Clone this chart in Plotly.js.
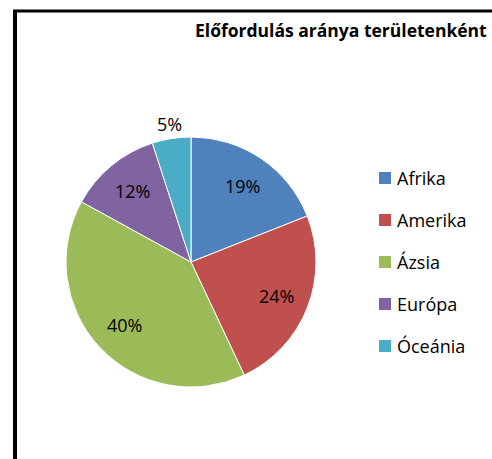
<!DOCTYPE html>
<html><head><meta charset="utf-8">
<script src="https://cdn.plot.ly/plotly-3.0.1.min.js"></script>
<style>html,body{margin:0;padding:0;background:#fff}#chart{width:492px;height:459px}</style>
</head><body><div id="chart"></div>
<script>
const categories = ["Afrika", "Amerika", "Ázsia", "Európa", "Óceánia"];
const shares = [19, 24, 40, 12, 5];
const colors = ["#4F81BD", "#C0504D", "#9BBB59", "#8064A2", "#4BACC6"];
const labelOutside = [false, false, false, false, true];
const chartTitle = "Előfordulás aránya területenként";

const W = 492, H = 459;
const px = v => v / W, py = v => 1 - v / H;
const FONT = "'Open Sans', sans-serif";

// pie geometry (pixels)
const CX = 191, CY = 262, R = 125;

const shapes = [
  {type: "line", xref: "paper", yref: "paper", x0: px(15), x1: px(15), y0: py(10), y1: py(459), line: {color: "#000", width: 4}},
  {type: "line", xref: "paper", yref: "paper", x0: px(13), x1: px(492), y0: py(11), y1: py(11), line: {color: "#000", width: 3}}
];
const annotations = [
  {text: "<b>" + chartTitle + "</b>", xref: "paper", yref: "paper", x: px(489), y: py(30), xanchor: "right", yanchor: "middle", showarrow: false, font: {family: FONT, size: 17.5, color: "#000"}}
];
// legend
categories.forEach((c, i) => {
  const cy = 178 + 42 * i;
  shapes.push({type: "rect", xref: "paper", yref: "paper", x0: px(379), x1: px(391), y0: py(cy + 6), y1: py(cy - 6), fillcolor: colors[i], line: {width: 0}});
  annotations.push({text: c, xref: "paper", yref: "paper", x: px(395), y: py(cy), xanchor: "left", yanchor: "middle", showarrow: false, font: {family: FONT, size: 18, color: "#000"}});
});
// data labels placed from the share values
const total = shares.reduce((a, b) => a + b, 0);
let cum = 0;
shares.forEach((v, i) => {
  const theta = 2 * Math.PI * (cum + v / 2) / total;
  cum += v;
  const rr = labelOutside[i] ? R * 1.12 : R * 0.735;
  annotations.push({
    text: Math.round(100 * v / total) + "%",
    xref: "paper", yref: "paper",
    x: px(CX + rr * Math.sin(theta)), y: py(CY - rr * Math.cos(theta)),
    xanchor: "center", yanchor: "middle", showarrow: false,
    font: {family: FONT, size: 18, color: "#000"}
  });
});

Plotly.newPlot("chart", [{
  type: "pie",
  labels: categories,
  values: shares,
  sort: false,
  direction: "clockwise",
  rotation: 0,
  marker: {colors: colors, line: {color: "#fff", width: 1}},
  textinfo: "none",
  domain: {x: [px(CX - R), px(CX + R)], y: [py(CY + R), py(CY - R)]},
  hoverinfo: "label+percent",
  showlegend: false
}], {
  width: W, height: H,
  margin: {l: 0, r: 0, t: 0, b: 0},
  paper_bgcolor: "#fff",
  showlegend: false,
  shapes: shapes,
  annotations: annotations,
  font: {family: FONT}
}, {displayModeBar: false, staticPlot: true});
</script></body></html>
